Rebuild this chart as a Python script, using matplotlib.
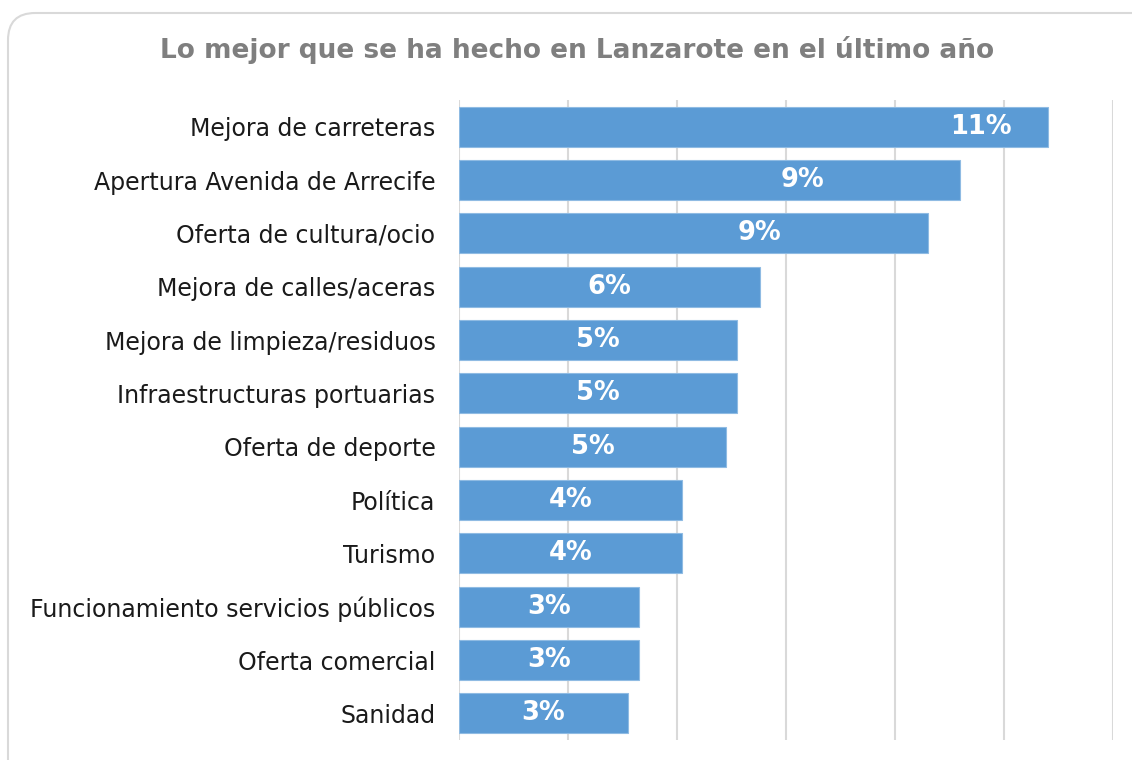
import numpy as np
import matplotlib
matplotlib.use("Agg")
import matplotlib.pyplot as plt
from matplotlib.patches import FancyBboxPatch

categories = ["Mejora de carreteras", "Apertura Avenida de Arrecife", "Oferta de cultura/ocio",
              "Mejora de calles/aceras", "Mejora de limpieza/residuos", "Infraestructuras portuarias",
              "Oferta de deporte", "Política", "Turismo", "Funcionamiento servicios públicos",
              "Oferta comercial", "Sanidad"]
values = [10.8, 9.2, 8.6, 5.52, 5.1, 5.1, 4.9, 4.1, 4.1, 3.3, 3.3, 3.1]
title = "Lo mejor que se ha hecho en Lanzarote en el último año"

# label x position as fraction of bar length (the top labels sit off-centre in the original)
label_frac = [0.887, 0.686, 0.642] + [0.5] * 9

W, H = 1132, 760
fig = plt.figure(figsize=(W / 100, H / 100), dpi=100)

# rounded frame around the chart
frame = FancyBboxPatch((8 / W, -0.2), 1.2, (H - 13) / H + 0.2, transform=fig.transFigure,
                       boxstyle="round,pad=0,rounding_size=0.024", facecolor="none",
                       edgecolor="#d9d9d9", linewidth=1.5, mutation_aspect=W / H, zorder=0)
fig.patches.append(frame)

ax = fig.add_axes([459 / W, 1 - 740 / H, (1113 - 459) / W, (740 - 100) / H])
ax.set_facecolor("none")
y = np.arange(len(categories))
ax.barh(y, values, height=0.75, color="#5b9bd5", edgecolor="#8fbbe3", linewidth=0.8, zorder=3)

for yi, v, f in zip(y, values, label_frac):
    ax.text(v * f, yi, f"{v:.0f}%", ha="center", va="center", color="white",
            fontsize=18.5, fontweight="bold", zorder=4)

ax.set_xlim(0, 12)
ax.set_ylim(len(categories) - 0.5, -0.5)
ax.set_xticks(np.arange(0, 13, 2))
ax.xaxis.grid(True, color="#d9d9d9", linewidth=1.5)
ax.set_axisbelow(True)
ax.tick_params(axis="x", length=0, labelbottom=False)
ax.tick_params(axis="y", length=0, pad=17)
ax.set_yticks(y)
ax.set_yticklabels(categories, fontsize=17, color="#1a1a1a")
for s in ax.spines.values():
    s.set_visible(False)

fig.text(577 / W, 1 - 50 / H, title, ha="center", va="center", fontsize=19,
         fontweight="bold", color="#7f7f7f")

fig.savefig("out.png", dpi=100)
